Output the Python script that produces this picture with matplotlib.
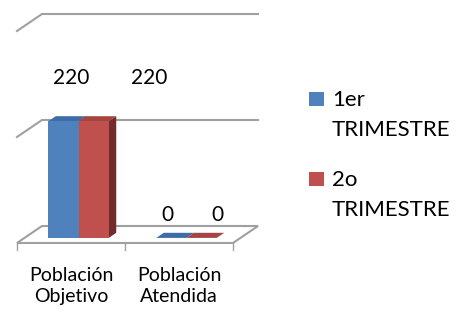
import numpy as np
import matplotlib
matplotlib.use("Agg")
import matplotlib.pyplot as plt
from matplotlib.patches import Polygon, Rectangle

# Data
categories = ["Población\nObjetivo", "Población\nAtendida"]
series_names = ["1er\nTRIMESTRE", "2o\nTRIMESTRE"]
trim1 = [220, 0]
trim2 = [220, 0]
gridlines = [200, 400]

plt.rcParams["font.family"] = ["Lato", "DejaVu Sans"]

W, H, DPI = 463, 309, 100
fig = plt.figure(figsize=(W / DPI, H / DPI), dpi=DPI)
ax = fig.add_axes([0, 0, 1, 1])
ax.axis("off")

# layout (pixels): first category centre, category width, floor front edge, scale
cat_px, cat_w_px = 71, 108
floor_px, px_per_unit = 243, 0.53
ax.set_xlim(-cat_px / cat_w_px, (W - cat_px) / cat_w_px)
ax.set_ylim(-(H - floor_px) / px_per_unit, floor_px / px_per_unit)

# depth vector of the whole floor, in data units
ddx, ddy = 25 / cat_w_px, 17 / px_per_unit

def shift(pts, t):
    return [(x + t * ddx, y + t * ddy) for x, y in pts]

grid_col = "#a0a0a0"
n = len(categories)
x0, x1 = -0.5, n - 0.5

# floor, back wall gridlines and ticks
floor = [(x0, 0), (x1, 0), (x1 + ddx, ddy), (x0 + ddx, ddy)]
ax.add_patch(Polygon(floor, closed=True, fc="white", ec=grid_col, lw=1.5, zorder=1))
for v in gridlines:
    ax.plot([x0, x0 + ddx, x1 + ddx], [v, v + ddy, v + ddy], color=grid_col, lw=1.5, zorder=1)
for xt in np.arange(x0, x1 + 0.01, 1):
    ax.plot([xt, xt], [0, -13], color=grid_col, lw=1, zorder=1)

# bars (front, top, side faces)
series = [trim1, trim2]
face = ["#4f81bd", "#c0504d"]
top = ["#3e6ca6", "#a64441"]
side = ["#36608f", "#722c2a"]
bar_w = 0.28
t1, t2 = 0.3, 0.6
# label offsets in pixels, like the Excel chart places them
label_off = [[(8, 43), (-4, 23)], [(56, 43), (16, 23)]]
for i, vals in enumerate(series):
    for j, v in enumerate(vals):
        xl = j - bar_w + i * bar_w
        xr = xl + bar_w
        sidep = shift([(xr, 0), (xr, v)], t1) + shift([(xr, v), (xr, 0)], t2)
        topp = shift([(xl, v), (xr, v)], t1) + shift([(xr, v), (xl, v)], t2)
        ax.add_patch(Polygon(sidep, fc=side[i], ec="none", zorder=3))
        ax.add_patch(Polygon(topp, fc=top[i], ec="none", zorder=3))
        ax.bar(xl + t1 * ddx, v, bar_w, bottom=t1 * ddy, align="edge",
               color=face[i], zorder=3)
        ox, oy = label_off[i][j]
        ax.annotate(str(v), xy=(xl + bar_w / 2 + t1 * ddx, v + t1 * ddy),
                    xytext=(ox * 0.72, oy * 0.72), textcoords="offset points",
                    ha="center", va="center", fontsize=15, color="black")

# category labels
for j, c in enumerate(categories):
    ax.text(j, (floor_px - 286) / px_per_unit, c, ha="center", va="center",
            fontsize=14, linespacing=1.35)

# legend, drawn by hand so the square sits by the first line
for i, name in enumerate(series_names):
    y_sq = 92 + i * 80
    fig.patches.append(Rectangle((309 / W, 1 - (y_sq + 14) / H), 15 / W, 14 / H,
                                 transform=fig.transFigure, fc=face[i], ec="none"))
    fig.text(332 / W, 1 - (y_sq + 23) / H, name, ha="left", va="center",
             fontsize=16, linespacing=1.65)

fig.savefig("out.png", dpi=DPI)
